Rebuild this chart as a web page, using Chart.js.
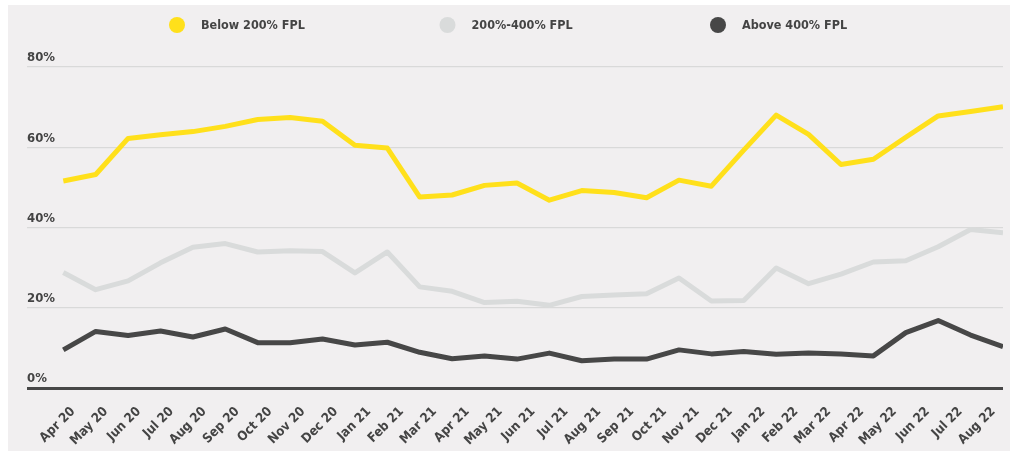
<!DOCTYPE html>
<html>
<head>
<meta charset="utf-8">
<script src="https://cdn.jsdelivr.net/npm/chart.js@4/dist/chart.umd.min.js"></script>
<style>
  html, body { margin: 0; background: #fff; }
  .marco { position: absolute; left: 8px; top: 5px; width: 1002px; height: 446px; background: #f1eff0; }
</style>
</head>
<body>
<div class="marco"><canvas id="graficoFpl" width="1002" height="446"></canvas></div>
<script>
// Etiquetas del eje X (29) y series (30 muestras cada una)
const meses = ['Apr 20', 'May 20', 'Jun 20', 'Jul 20', 'Aug 20', 'Sep 20', 'Oct 20', 'Nov 20', 'Dec 20',
    'Jan 21', 'Feb 21', 'Mar 21', 'Apr 21', 'May 21', 'Jun 21', 'Jul 21', 'Aug 21', 'Sep 21', 'Oct 21',
    'Nov 21', 'Dec 21', 'Jan 22', 'Feb 22', 'Mar 22', 'Apr 22', 'May 22', 'Jun 22', 'Jul 22', 'Aug 22'];

const nombresSeries = ['Below 200% FPL', '200%-400% FPL', 'Above 400% FPL'];

const bajo200 = [51.6, 53.2, 62.2, 63.1, 63.9, 65.2, 66.9, 67.4, 66.5, 60.5,
    59.8, 47.6, 48.1, 50.5, 51.1, 46.8, 49.2, 48.7, 47.4, 51.8,
    50.3, 59.3, 68.0, 63.2, 55.7, 57.0, 62.5, 67.8, 68.9, 70.1];

const entre200y400 = [28.8, 24.5, 26.7, 31.2, 35.1, 36.0, 33.9, 34.2, 34.0, 28.7,
    33.9, 25.2, 24.1, 21.3, 21.6, 20.6, 22.8, 23.2, 23.5, 27.4,
    21.7, 21.8, 29.9, 26.0, 28.4, 31.4, 31.7, 35.2, 39.5, 38.7];

const sobre400 = [9.5, 14.1, 13.1, 14.2, 12.7, 14.7, 11.3, 11.3, 12.2, 10.7,
    11.4, 8.9, 7.3, 8.0, 7.2, 8.7, 6.8, 7.2, 7.2, 9.5,
    8.5, 9.1, 8.4, 8.7, 8.5, 8.0, 13.8, 16.8, 13.2, 10.3];

const ticksY = [0, 20, 40, 60, 80];

const colores = ['#ffe01b', '#d9dbdb', '#474747'];
const textoColor = '#444444';
const fuente = '"DejaVu Sans Condensed", "DejaVu Sans", sans-serif';

const aPuntos = arr => arr.map((v, i) => ({ x: i, y: v }));

// leyenda dibujada a mano (la de Chart.js mete demasiado alto con padding grande)
const leyenda = {
    id: 'leyenda',
    afterDraw(chart) {
        const { ctx } = chart;
        ctx.save();
        ctx.font = 'bold 12.5px ' + fuente;
        ctx.textBaseline = 'middle';
        ctx.textAlign = 'left';
        chart.data.datasets.forEach((ds, i) => {
            const cx = 169 + i * 270.5;
            ctx.fillStyle = ds.borderColor;
            ctx.beginPath();
            ctx.arc(cx, 20, 8, 0, Math.PI * 2);
            ctx.fill();
            ctx.fillStyle = textoColor;
            ctx.fillText(ds.label, cx + 24, 21);
        });
        ctx.restore();
    }
};

const series = [bajo200, entre200y400, sobre400];

new Chart(document.getElementById('graficoFpl'), {
    type: 'line',
    data: {
        datasets: series.map((s, i) => ({
            label: nombresSeries[i],
            data: aPuntos(s),
            borderColor: colores[i],
            backgroundColor: colores[i],
            borderWidth: 5,
            borderJoinStyle: 'round',
            pointRadius: 0,
            tension: 0,
            fill: false
        }))
    },
    options: {
        responsive: false,
        animation: false,
        layout: { padding: { top: 62, left: 19, right: 7, bottom: 0 } },
        plugins: {
            legend: { display: false },
            tooltip: { enabled: false }
        },
        scales: {
            x: {
                type: 'linear',
                bounds: 'data',
                min: -1.12,
                max: bajo200.length - 1,
                grid: { display: false },
                border: { display: false },
                afterBuildTicks: (scale) => {
                    // etiquetas repartidas sobre el tramo de datos
                    const margen = 0.3;
                    const paso = (bajo200.length - 1 - 2 * margen) / (meses.length - 1);
                    scale.ticks = meses.map((m, i) => ({ value: margen + i * paso }));
                },
                afterFit: (scale) => {
                    scale.height = 63;
                    scale.paddingLeft = 0;
                    scale.paddingRight = 0;
                },
                ticks: {
                    autoSkip: false,
                    minRotation: 45,
                    maxRotation: 45,
                    padding: 8,
                    color: textoColor,
                    font: { family: fuente, weight: 'bold', size: 13 },
                    callback: (value, index) => meses[index]
                }
            },
            y: {
                min: 0,
                max: 80,
                afterBuildTicks: (scale) => {
                    scale.ticks = ticksY.map(v => ({ value: v }));
                },
                afterFit: (scale) => { scale.width = 0; },
                border: { display: false },
                grid: {
                    drawTicks: false,
                    color: (c) => c.tick.value === 0 ? '#474747' : '#d9d9d9',
                    lineWidth: (c) => c.tick.value === 0 ? 3 : 1.2
                },
                ticks: {
                    mirror: true,
                    padding: 0,
                    labelOffset: -9,
                    color: textoColor,
                    font: { family: fuente, weight: 'bold', size: 13 },
                    callback: (value) => value + '%'
                }
            }
        }
    },
    plugins: [leyenda]
});
</script>
</body>
</html>
